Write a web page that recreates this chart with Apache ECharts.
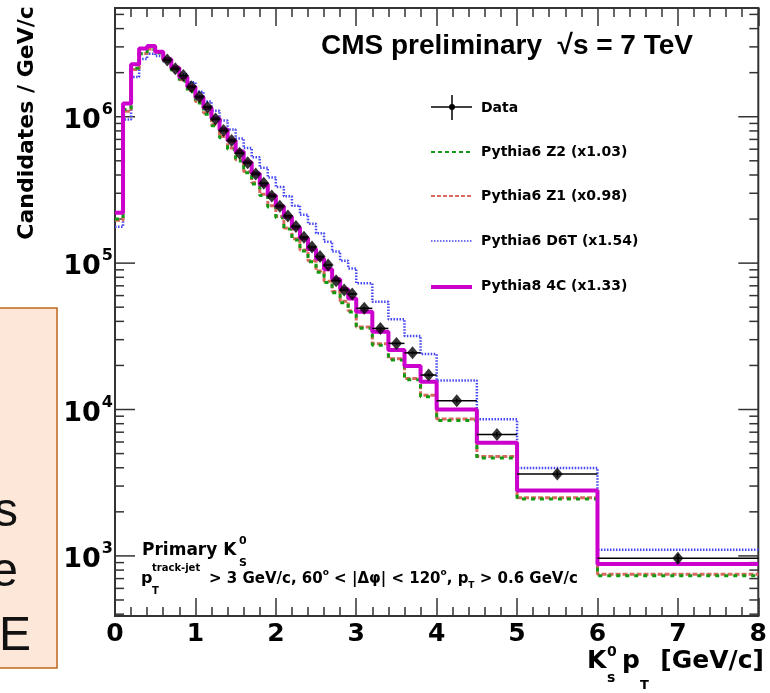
<!DOCTYPE html>
<html><head><meta charset="utf-8">
<script src="https://cdn.jsdelivr.net/npm/echarts/dist/echarts.min.js"></script>
<style>html,body{margin:0;padding:0;background:#fff}#c{width:770px;height:693px}</style>
</head><body><div id="c"></div>
<script>
// bin edges (GeV/c)
const binEdges = [0,0.1,0.2,0.3,0.4,0.5,0.6,0.7,0.8,0.9,1.0,1.1,1.2,1.3,1.4,1.5,1.6,1.7,1.8,1.9,2.0,2.1,2.2,2.3,2.4,2.5,2.6,2.7,2.8,2.9,3.0,3.2,3.4,3.6,3.8,4.0,4.5,5.0,6.0,8.0];
// MC histograms, one value per bin
const pythia8_4C = [2.21e5,1.23e6,2.28e6,2.93e6,3.04e6,2.78e6, 2.47e6,2.16e6,1.87e6,1.60e6,1.36e6,1.15e6, 9.73e5,8.17e5,6.89e5,5.78e5,4.88e5,4.09e5, 3.45e5,2.90e5,2.45e5,2.07e5,1.75e5,1.48e5, 1.25e5,1.07e5,9.08e4,7.76e4,6.64e4,5.73e4, 4.66e4,3.40e4,2.55e4,1.98e4,1.55e4, 1.00e4,5.93e3, 2.80e3,8.81e2];
const pythia6_Z2 = [2.00e5,1.12e6,2.14e6,2.69e6,2.88e6,2.72e6, 2.38e6,2.07e6,1.75e6,1.48e6,1.24e6,1.04e6, 8.67e5,7.19e5,6.00e5,4.98e5,4.15e5,3.47e5, 2.90e5,2.42e5,2.04e5,1.71e5,1.44e5,1.21e5, 1.02e5,8.67e4,7.38e4,6.28e4,5.37e4,4.63e4, 3.59e4,2.75e4,2.18e4,1.60e4,1.22e4, 8.41e3,4.66e3, 2.45e3,7.33e2];
const pythia6_Z1 = [1.96e5,1.09e6,2.10e6,2.70e6,2.90e6,2.75e6, 2.42e6,2.11e6,1.79e6,1.51e6,1.27e6,1.06e6, 8.85e5,7.34e5,6.12e5,5.08e5,4.23e5,3.54e5, 2.96e5,2.47e5,2.08e5,1.74e5,1.47e5,1.23e5, 1.04e5,8.85e4,7.53e4,6.41e4,5.48e4,4.72e4, 3.66e4,2.81e4,2.22e4,1.63e4,1.25e4, 8.60e3,4.78e3, 2.50e3,7.50e2];
const pythia6_D6T = [1.77e5,9.59e5,1.87e6,2.48e6,2.69e6,2.60e6, 2.38e6,2.16e6,1.95e6,1.72e6,1.48e6,1.27e6, 1.10e6,9.44e5,8.17e5,7.11e5,6.11e5,5.28e5, 4.49e5,3.85e5,3.31e5,2.86e5,2.47e5,2.14e5, 1.86e5,1.60e5,1.40e5,1.20e5,1.04e5,9.20e4, 7.28e4,5.45e4,4.13e4,3.18e4,2.39e4, 1.58e4,8.57e3, 3.98e3,1.10e3];
// Data starts at bin index 6 (pT > 0.6)
const dataFirstBin = 6;
const dataValues = [2.44e6,2.13e6,1.91e6,1.60e6,1.37e6,1.16e6, 9.64e5,8.04e5,6.89e5,5.62e5,4.85e5,4.06e5, 3.51e5,2.87e5,2.45e5,2.10e5,1.78e5,1.50e5, 1.29e5,1.11e5,9.70e4,7.59e4,6.55e4,6.15e4, 4.91e4,3.58e4,2.83e4,2.44e4,1.72e4, 1.15e4,6.76e3, 3.63e3, 9.62e2];
const dataErrors = [2.4e4,2.1e4,1.9e4,1.6e4,1.4e4,1.2e4, 9.6e3,8.0e3,6.9e3,5.6e3,4.9e3,4.1e3, 3.5e3,2.9e3,2.5e3,2.1e3,1.8e3,1.5e3, 1.3e3,1.1e3,1.0e3,8.0e2,7.0e2,7.0e2, 1.0e3,7.5e2,6.0e2,5.5e2,4.0e2, 3.5e2,2.5e2, 1.6e2,7.0e1];
// axis ticks
const xTickLabels = [0,1,2,3,4,5,6,7,8];
const yDecades = [1e2,1e3,1e4,1e5,1e6];
const yMinorMultipliers = [2,3,4,5,6,7,8,9];
const legendLabels = ['Data','Pythia6 Z2 (x1.03)','Pythia6 Z1 (x0.98)','Pythia6 D6T (x1.54)','Pythia8 4C (x1.33)'];

const X_MIN = 0, X_MAX = 8, Y_MIN = 388.6, Y_MAX = 5.53e6;
const FONT = 'DejaVu Sans';

function stairs(vals){
  const pts = vals.map((v,i)=>[binEdges[i], v]);
  pts.push([binEdges[binEdges.length-1], vals[vals.length-1]]);
  return pts;
}
const dataPoints = dataValues.map((v,i)=>{
  const lo = binEdges[dataFirstBin+i], hi = binEdges[dataFirstBin+i+1];
  return [lo, hi, v, dataErrors[i], (lo+hi)/2];
});
const yTicks = [];
yDecades.forEach(d=>{
  if (d>=Y_MIN && d<=Y_MAX) yTicks.push([0,d,1]);
  yMinorMultipliers.forEach(m=>{ const v=d*m; if (v>=Y_MIN && v<=Y_MAX) yTicks.push([0,v,0]); });
});

const chart = echarts.init(document.getElementById('c'), null, {renderer:'canvas'});
const axisColor = '#333';
const xAxisCommon = {
  type:'value', min:X_MIN, max:X_MAX, interval:1,
  axisLine:{show:true, lineStyle:{color:axisColor, width:2}},
  axisTick:{show:true, inside:true, length:18, lineStyle:{color:axisColor, width:1.5}},
  minorTick:{show:true, splitNumber:5, length:9, lineStyle:{color:axisColor, width:1.5}},
  splitLine:{show:false}, minorSplitLine:{show:false}
};
const histLine = (name, vals, color, width, type, z) => ({
  name, type:'line', step:'end', data:stairs(vals), symbol:'none', showSymbol:false,
  lineStyle:{color, width, type}, z, clip:true, animation:false, silent:true
});
const T = (x, y, text, font, extra) => ({type:'text', x, y, style:Object.assign({text, font, fill:'#000', textVerticalAlign:'bottom', verticalAlign:'bottom'}, extra||{})});

chart.setOption({
  animation:false,
  backgroundColor:'#fff',
  grid:{left:115, right:8, top:8, bottom:77, show:true, borderColor:axisColor, borderWidth:2, backgroundColor:'transparent'},
  xAxis:[
    Object.assign({}, xAxisCommon, {position:'bottom',
      axisLabel:{show:true, margin:6, fontFamily:FONT, fontWeight:'bold', fontSize:25, color:'#000',
        formatter:v=> xTickLabels.indexOf(v)>=0 ? String(v) : ''}}),
    Object.assign({}, xAxisCommon, {position:'top', axisLabel:{show:false}})
  ],
  yAxis:[{
    type:'log', logBase:10, min:Y_MIN, max:Y_MAX,
    axisLine:{show:true, lineStyle:{color:axisColor, width:2}},
    axisTick:{show:false}, splitLine:{show:false},
    axisLabel:{show:true, margin:2,
      formatter:v=>{ const l=Math.log10(v); return Math.abs(l-Math.round(l))<1e-6 ? '{b|10}{s|'+Math.round(l)+'}' : ''; },
      rich:{
        b:{fontFamily:FONT, fontWeight:'bold', fontSize:27, color:'#000', lineHeight:30, padding:[8,0,0,0]},
        s:{fontFamily:FONT, fontWeight:'bold', fontSize:16, color:'#000', lineHeight:30, verticalAlign:'top', padding:[0,0,0,1]}
      }}
  }],
  series:[
    {type:'custom', name:'yticks', data:yTicks, z:1, silent:true, clip:false,
     encode:{x:0,y:1},
     renderItem:(params, api)=>{
       const v = api.value(1), major = api.value(2)===1, len = major?20:9;
       const pl = api.coord([X_MIN, v]), pr = api.coord([X_MAX, v]);
       return {type:'group', children:[
         {type:'line', shape:{x1:pl[0], y1:pl[1], x2:pl[0]+len, y2:pl[1]}, style:{stroke:axisColor, lineWidth:1.5}},
         {type:'line', shape:{x1:pr[0], y1:pr[1], x2:pr[0]-len, y2:pr[1]}, style:{stroke:axisColor, lineWidth:1.5}}
       ]};
     }},
    histLine('Pythia6 D6T (x1.54)', pythia6_D6T, '#4646f2', 2.5, [1.5,1.5], 2),
    histLine('Pythia6 Z1 (x0.98)', pythia6_Z1, '#d86a5e', 3, [5,2], 3),
    histLine('Pythia6 Z2 (x1.03)', pythia6_Z2, '#129a12', 3, [4,5], 4),
    histLine('Pythia8 4C (x1.33)', pythia8_4C, '#cc00cc', 4, 'solid', 5),
    {type:'custom', name:'Data errors', data:dataPoints, z:6, silent:true,
     encode:{x:[0,1,4], y:[2]},
     renderItem:(params, api)=>{
       const lo=api.value(0), hi=api.value(1), y=api.value(2), e=api.value(3), c=api.value(4);
       const pL=api.coord([lo,y]), pH=api.coord([hi,y]), pU=api.coord([c,y+e]), pD=api.coord([c,y-e]);
       return {type:'group', children:[
         {type:'line', shape:{x1:pL[0],y1:pL[1],x2:pH[0],y2:pH[1]}, style:{stroke:'#000', lineWidth:1.5}},
         {type:'line', shape:{x1:pU[0],y1:pU[1],x2:pD[0],y2:pD[1]}, style:{stroke:'#000', lineWidth:1.5}}
       ]};
     }},
    {type:'scatter', name:'Data', data:dataPoints.map(p=>[p[4], p[2]]), symbol:'diamond', symbolSize:[11,13],
     itemStyle:{color:'#000'}, z:7, silent:true}
  ],
  graphic:[
    // y axis title
    {type:'text', x:27, y:123, rotation:Math.PI/2, style:{text:'Candidates / GeV/c', font:'bold 22px "DejaVu Sans"', fill:'#000', textAlign:'center', textVerticalAlign:'middle', align:'center', verticalAlign:'middle'}},
    // x axis title  K^0_s p_T [GeV/c]
    T(587, 674, 'K', 'bold 25px "DejaVu Sans"'),
    T(607, 659, '0', 'bold 14px "DejaVu Sans"'),
    T(607, 685, 's', 'bold 14px "DejaVu Sans"'),
    T(622, 674, 'p', 'bold 25px "DejaVu Sans"'),
    T(640, 692, 'T', 'bold 13px "DejaVu Sans"'),
    T(764, 674, '[GeV/c]', 'bold 25px "DejaVu Sans"', {textAlign:'right', align:'right'}),
    // header
    {type:'text', x:321, y:46, style:{text:'CMS preliminary  \u221As = 7 TeV', font:'bold 28px "Liberation Sans"', fill:'#000', textVerticalAlign:'middle', verticalAlign:'middle'}},
    // legend
    {type:'line', shape:{x1:431,y1:107,x2:472,y2:107}, style:{stroke:'#000', lineWidth:1.5}},
    {type:'line', shape:{x1:452,y1:95,x2:452,y2:120}, style:{stroke:'#000', lineWidth:1.5}},
    {type:'circle', shape:{cx:452, cy:107, r:3}, style:{fill:'#000'}},
    {type:'line', shape:{x1:431,y1:152,x2:472,y2:152}, style:{stroke:'#129a12', lineWidth:2, lineDash:[4,3]}},
    {type:'line', shape:{x1:431,y1:196,x2:472,y2:196}, style:{stroke:'#d86a5e', lineWidth:2, lineDash:[4,2]}},
    {type:'line', shape:{x1:431,y1:241,x2:472,y2:241}, style:{stroke:'#4646f2', lineWidth:1.5, lineDash:[1.5,1.5]}},
    {type:'line', shape:{x1:431,y1:287,x2:472,y2:287}, style:{stroke:'#cc00cc', lineWidth:4}},
    {type:'text', x:481, y:108, style:{text:legendLabels[0], font:'bold 14px "DejaVu Sans"', fill:'#000', textVerticalAlign:'middle', verticalAlign:'middle'}},
    {type:'text', x:481, y:152, style:{text:legendLabels[1], font:'bold 14px "DejaVu Sans"', fill:'#000', textVerticalAlign:'middle', verticalAlign:'middle'}},
    {type:'text', x:481, y:196, style:{text:legendLabels[2], font:'bold 14px "DejaVu Sans"', fill:'#000', textVerticalAlign:'middle', verticalAlign:'middle'}},
    {type:'text', x:481, y:241, style:{text:legendLabels[3], font:'bold 14px "DejaVu Sans"', fill:'#000', textVerticalAlign:'middle', verticalAlign:'middle'}},
    {type:'text', x:481, y:286, style:{text:legendLabels[4], font:'bold 14px "DejaVu Sans"', fill:'#000', textVerticalAlign:'middle', verticalAlign:'middle'}},
    // Primary K0S
    T(142, 559, 'Primary K', 'bold 17px "DejaVu Sans"'),
    T(239, 547, '0', 'bold 11px "DejaVu Sans"'),
    T(239, 569, 'S', 'bold 11px "DejaVu Sans"'),
    // cut line
    T(141, 587, 'p', 'bold 16px "DejaVu Sans"'),
    T(152, 596, 'T', 'bold 10px "DejaVu Sans"'),
    T(152, 573, 'track-jet', 'bold 10px "DejaVu Sans"'),
    {type:'text', x:209, y:579, style:{text:'> 3 GeV/c, 60{sup|o} < |\u0394\u03C6| < 120{sup|o}, p{sub|T} > 0.6 GeV/c',
      font:'bold 15px "DejaVu Sans"', fill:'#000', textVerticalAlign:'middle', verticalAlign:'middle',
      rich:{sup:{font:'bold 9px "DejaVu Sans"', fill:'#000', verticalAlign:'top', lineHeight:22}, sub:{font:'bold 9px "DejaVu Sans"', fill:'#000', verticalAlign:'bottom', lineHeight:22}}}},
    // overlapping slide box
    {type:'rect', shape:{x:-2, y:308, width:59, height:360}, style:{fill:'#fde7d9', stroke:'#c0651c', lineWidth:1.5}},
    {type:'text', x:18, y:537, style:{text:'s', font:'48px "Liberation Sans"', fill:'#111', textAlign:'right', align:'right', textVerticalAlign:'bottom', verticalAlign:'bottom'}},
    {type:'text', x:18, y:597, style:{text:'e', font:'48px "Liberation Sans"', fill:'#111', textAlign:'right', align:'right', textVerticalAlign:'bottom', verticalAlign:'bottom'}},
    {type:'text', x:31, y:661, style:{text:'E', font:'48px "Liberation Sans"', fill:'#111', textAlign:'right', align:'right', textVerticalAlign:'bottom', verticalAlign:'bottom'}}
  ]
});
</script></body></html>
